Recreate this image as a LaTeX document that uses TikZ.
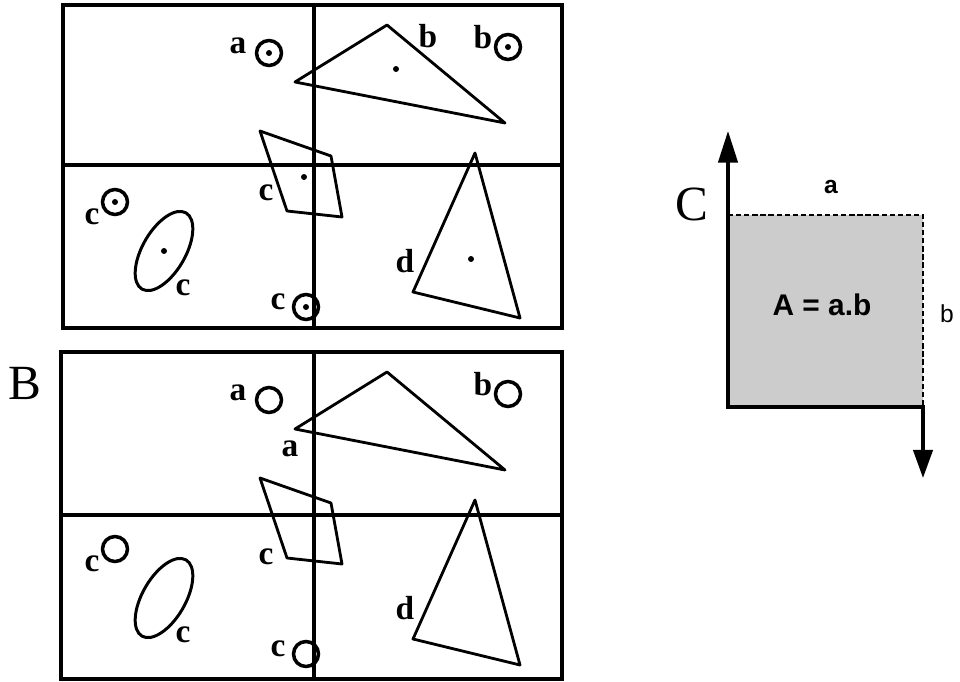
\documentclass[tikz,border=0pt]{standalone}
\usepackage{fontspec}
\setmainfont{Liberation Serif}
\newfontfamily\labelsans{Liberation Sans}
\usetikzlibrary{arrows.meta, positioning, shapes.geometric}

\begin{document}
\begin{tikzpicture}[
		x=0.02cm, y=-0.02cm,
		frame/.style={line width=1.8pt},
		outline/.style={line width=1.6pt, line join=round},
		ring/.style={draw, circle, line width=2pt, minimum size=0.5cm, inner sep=0pt},
		oval/.style={draw, ellipse, line width=1.7pt, minimum width=1.76cm, minimum height=0.86cm, inner sep=0pt, rotate=60},
		lbl/.style={font=\fontsize{19}{20}\selectfont\bfseries, inner sep=0pt},
		big/.style={font=\fontsize{28}{30}\selectfont, inner sep=0pt},
		>=Stealth
	]
	\useasboundingbox (0,0) rectangle (960,682);

	% panels A and B
	\draw[frame] (63,5) rectangle (562,328) (314,5) -- (314,328) (63,165) -- (562,165);
	\draw[frame] (61,352) rectangle (562,679) (314,352) -- (314,679) (61,515) -- (562,515);

	\foreach \p/\dy/\cy in {1/0/193, 2/347/210} {
		\begin{scope}[shift={(0,\dy)}]
			\draw[outline] (295,82) -- (387,25) -- (505,123) -- cycle;
			\draw[outline] (260,131) -- (331,156) -- (342,217) -- (287,211) -- cycle;
			\draw[outline] (475,153) -- (520,318) -- (413,292) -- cycle;
			\node[oval] (el\p) at (164,251) {};
			\node[ring] (ra\p) at (269,53) {};
			\node[ring] (rb\p) at (508,47) {};
			\node[ring] (rc\p) at (115,202) {};
			\node[ring] (rd\p) at (306,307) {};
			\node[lbl] (la\p) at (238,46) {a};
			\node[lbl] (lb\p) at (483,37) {b};
			\node[lbl] (lc\p) at (92,217) {c};
			\node[lbl] (lq\p) at (266,\cy) {c};
			\node[lbl] (le\p) at (183,288) {c};
			\node[lbl] (lr\p) at (278,302) {c};
			\node[lbl] (ld\p) at (405,261) {d};
		\end{scope}
	}

	% only in the top panel
	\node[lbl] (lt) at (428,36) {b};
	\foreach \n in {ra1, rb1, rc1, rd1, el1}
		\fill (\n) circle (1.7pt);
	\fill (396,69) circle (1.7pt) (304,177) circle (1.7pt) (471,259) circle (1.7pt);

	% only in the bottom panel
	\node[lbl] (lv) at (290,449) {a};
	\node[big] (capB) at (25,383) {B};

	% panel C
	\node[big] (capC) at (692,204) {C};
	\coordinate (top) at (728,131);
	\coordinate (orig) at (728,407);
	\coordinate (corner) at (923,407);
	\coordinate (tip) at (923,478);
	\coordinate (tl) at (728,215);
	\coordinate (tr) at (923,215);
	\fill[black!20] (tl) rectangle (corner);
	\draw[line width=1.6pt, dash pattern=on 3pt off 1.6pt] (tl) -- (tr) -- (corner);
	\draw[line width=1.9pt, {Triangle[length=18pt, width=11pt]}-{Triangle[length=16pt, width=11pt]}]
		(top) -- (orig) -- (corner) -- (tip);
	\node[font=\labelsans\fontsize{14}{15}\selectfont\bfseries, inner sep=0pt] (sa) at (831,187) {a};
	\node[font=\labelsans\fontsize{14}{15}\selectfont, inner sep=0pt] (sb) at (947,314) {b};
	\node[font=\labelsans\fontsize{17}{18}\selectfont\bfseries, inner sep=0pt] (area) at (822,305) {A = a.b};
\end{tikzpicture}
\end{document}
